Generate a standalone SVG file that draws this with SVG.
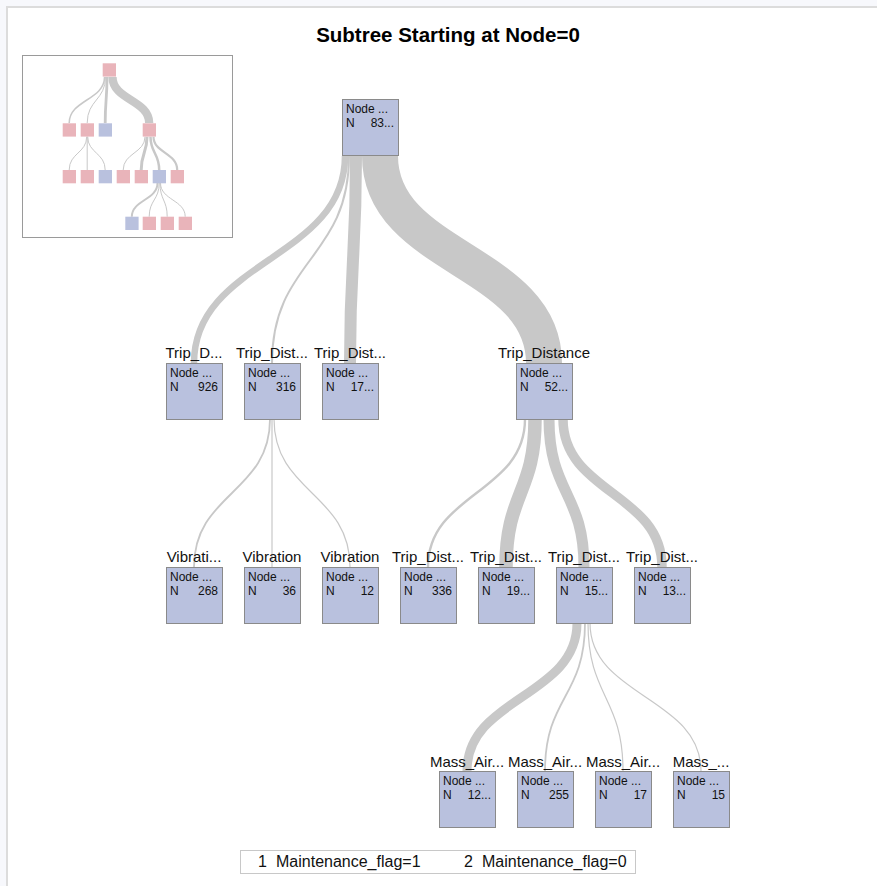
<svg xmlns="http://www.w3.org/2000/svg" width="877" height="886" viewBox="0 0 877 886">
<style>
.bg{fill:#f7f8fc}
.frame{fill:#ffffff;stroke:#dcdcdc;stroke-width:2}
.title{font-family:"Liberation Sans",Arial,sans-serif;font-size:20.5px;font-weight:bold;fill:#000;text-anchor:middle}
.box{fill:#b9c1de;stroke:#8a8a8a;stroke-width:1}
.nt{font-family:"Liberation Sans",Arial,sans-serif;font-size:12px;fill:#111}
.num{text-anchor:end}
.lbl{font-family:"Liberation Sans",Arial,sans-serif;font-size:15px;fill:#111;text-anchor:middle}
.band{fill:none;stroke:#c8c8c8}
.ovbox{fill:#ffffff;stroke:#9a9a9a;stroke-width:1}
.pk{fill:#e9b4ba}
.bl{fill:#b9c1de}
.leg{fill:#ffffff;stroke:#c8c8c8;stroke-width:1}
.legt{font-family:"Liberation Sans",Arial,sans-serif;font-size:16px;fill:#111}
</style>
<rect class="bg" x="0" y="0" width="877" height="886"/>
<rect class="frame" x="7" y="7" width="890" height="900"/>
<text class="title" x="448" y="42">Subtree Starting at Node=0</text>

<g id="overview">
<rect class="ovbox" x="22.5" y="55.5" width="210" height="182"/>
<g id="overview-links">
<path class="band" stroke-width="1.5" d="M104.5,77 C104.5,100 69.2,100 69.2,123"/>
<path class="band" stroke-width="1" d="M105.5,77 C105.5,100 87.2,100 87.2,123"/>
<path class="band" stroke-width="2.8" d="M107,77 C107,100 105.2,100 105.2,123"/>
<path class="band" stroke-width="8.3" d="M112.5,77 C112.5,100 149.2,100 149.2,123"/>
<path class="band" stroke-width="1" d="M86.7,136.7 C86.7,153 69.2,153 69.2,170"/>
<path class="band" stroke-width="1" d="M87.2,136.7 L87.2,170"/>
<path class="band" stroke-width="1" d="M87.7,136.7 C87.7,153 105.2,153 105.2,170"/>
<path class="band" stroke-width="1" d="M145,136.7 C145,153 123.2,153 123.2,170"/>
<path class="band" stroke-width="3" d="M147,136.7 C147,153 141.2,153 141.2,170"/>
<path class="band" stroke-width="2.5" d="M150.5,136.7 C150.5,153 159.2,153 159.2,170"/>
<path class="band" stroke-width="2.2" d="M153.5,136.7 C153.5,153 177.2,153 177.2,170"/>
<path class="band" stroke-width="2" d="M157.5,183 C157.5,200 131.8,200 131.8,216.7"/>
<path class="band" stroke-width="1" d="M159.2,183 C159.2,200 149.2,200 149.2,216.7"/>
<path class="band" stroke-width="1" d="M160,183 C160,200 167.2,200 167.2,216.7"/>
<path class="band" stroke-width="1" d="M160.5,183 C160.5,200 185.2,200 185.2,216.7"/>
</g>
<rect class="pk" x="102.7" y="63.3" width="13.3" height="13.3"/>
<rect class="pk" x="62.7" y="123.3" width="13.3" height="13.3"/>
<rect class="pk" x="80.7" y="123.3" width="13.3" height="13.3"/>
<rect class="bl" x="98.7" y="123.3" width="13.3" height="13.3"/>
<rect class="pk" x="142.7" y="123.3" width="13.3" height="13.3"/>
<rect class="pk" x="62.7" y="170" width="13.3" height="13.3"/>
<rect class="pk" x="80.7" y="170" width="13.3" height="13.3"/>
<rect class="bl" x="98.7" y="170" width="13.3" height="13.3"/>
<rect class="pk" x="116.7" y="170" width="13.3" height="13.3"/>
<rect class="pk" x="134.7" y="170" width="13.3" height="13.3"/>
<rect class="bl" x="152.7" y="170" width="13.3" height="13.3"/>
<rect class="pk" x="170.7" y="170" width="13.3" height="13.3"/>
<rect class="bl" x="125.3" y="216.7" width="13.3" height="13.3"/>
<rect class="pk" x="142.7" y="216.7" width="13.3" height="13.3"/>
<rect class="pk" x="160.7" y="216.7" width="13.3" height="13.3"/>
<rect class="pk" x="178.7" y="216.7" width="13.3" height="13.3"/>
</g>

<g id="connectors">
<path class="band" stroke-width="6.5" d="M345,156 C345,259.5 194,259.5 194,363"/>
<path class="band" stroke-width="2" d="M349,156 C349,259.5 272,259.5 272,363"/>
<path class="band" stroke-width="12" d="M356,156 C356,259.5 350,259.5 350,363"/>
<path class="band" stroke-width="36" d="M380,156 C380,259.5 544,259.5 544,363"/>
<path class="band" stroke-width="1.8" d="M270,419 C270,493 194,493 194,567"/>
<path class="band" stroke-width="1.2" d="M272,419 L272,567"/>
<path class="band" stroke-width="1.2" d="M274,419 C274,493 350,493 350,567"/>
<path class="band" stroke-width="2.4" d="M525,419 C525,493 428,493 428,567"/>
<path class="band" stroke-width="13.5" d="M535,419 C535,493 506,493 506,567"/>
<path class="band" stroke-width="11" d="M549,419 C549,493 584,493 584,567"/>
<path class="band" stroke-width="9.5" d="M563,419 C563,493 662,493 662,567"/>
<path class="band" stroke-width="9" d="M577,623 C577,697 467,697 467,771"/>
<path class="band" stroke-width="1.8" d="M585,623 C585,697 545,697 545,771"/>
<path class="band" stroke-width="1.2" d="M588,623 C588,697 623,697 623,771"/>
<path class="band" stroke-width="1.2" d="M590,623 C590,697 701,697 701,771"/>
</g>

<g id="node0"><rect class="box" x="342.5" y="99.5" width="56" height="56"/><text class="nt" x="346" y="113">Node ...</text><text class="nt" x="346" y="127">N</text><text class="nt num" x="394" y="127">83...</text></g>

<g id="node1"><text class="lbl" x="194" y="358">Trip_D...</text><rect class="box" x="166.5" y="363.5" width="56" height="56"/><text class="nt" x="170" y="377">Node ...</text><text class="nt" x="170" y="391">N</text><text class="nt num" x="218" y="391">926</text></g>
<g id="node2"><text class="lbl" x="272" y="358">Trip_Dist...</text><rect class="box" x="244.5" y="363.5" width="56" height="56"/><text class="nt" x="248" y="377">Node ...</text><text class="nt" x="248" y="391">N</text><text class="nt num" x="296" y="391">316</text></g>
<g id="node3"><text class="lbl" x="350" y="358">Trip_Dist...</text><rect class="box" x="322.5" y="363.5" width="56" height="56"/><text class="nt" x="326" y="377">Node ...</text><text class="nt" x="326" y="391">N</text><text class="nt num" x="374" y="391">17...</text></g>
<g id="node4"><text class="lbl" x="544" y="358">Trip_Distance</text><rect class="box" x="516.5" y="363.5" width="56" height="56"/><text class="nt" x="520" y="377">Node ...</text><text class="nt" x="520" y="391">N</text><text class="nt num" x="568" y="391">52...</text></g>

<g id="node5"><text class="lbl" x="194" y="562">Vibrati...</text><rect class="box" x="166.5" y="567.5" width="56" height="56"/><text class="nt" x="170" y="581">Node ...</text><text class="nt" x="170" y="595">N</text><text class="nt num" x="218" y="595">268</text></g>
<g id="node6"><text class="lbl" x="272" y="562">Vibration</text><rect class="box" x="244.5" y="567.5" width="56" height="56"/><text class="nt" x="248" y="581">Node ...</text><text class="nt" x="248" y="595">N</text><text class="nt num" x="296" y="595">36</text></g>
<g id="node7"><text class="lbl" x="350" y="562">Vibration</text><rect class="box" x="322.5" y="567.5" width="56" height="56"/><text class="nt" x="326" y="581">Node ...</text><text class="nt" x="326" y="595">N</text><text class="nt num" x="374" y="595">12</text></g>
<g id="node8"><text class="lbl" x="428" y="562">Trip_Dist...</text><rect class="box" x="400.5" y="567.5" width="56" height="56"/><text class="nt" x="404" y="581">Node ...</text><text class="nt" x="404" y="595">N</text><text class="nt num" x="452" y="595">336</text></g>
<g id="node9"><text class="lbl" x="506" y="562">Trip_Dist...</text><rect class="box" x="478.5" y="567.5" width="56" height="56"/><text class="nt" x="482" y="581">Node ...</text><text class="nt" x="482" y="595">N</text><text class="nt num" x="530" y="595">19...</text></g>
<g id="node10"><text class="lbl" x="584" y="562">Trip_Dist...</text><rect class="box" x="556.5" y="567.5" width="56" height="56"/><text class="nt" x="560" y="581">Node ...</text><text class="nt" x="560" y="595">N</text><text class="nt num" x="608" y="595">15...</text></g>
<g id="node11"><text class="lbl" x="662" y="562">Trip_Dist...</text><rect class="box" x="634.5" y="567.5" width="56" height="56"/><text class="nt" x="638" y="581">Node ...</text><text class="nt" x="638" y="595">N</text><text class="nt num" x="686" y="595">13...</text></g>

<g id="node12"><text class="lbl" x="467" y="767">Mass_Air...</text><rect class="box" x="439.5" y="771.5" width="56" height="56"/><text class="nt" x="443" y="785">Node ...</text><text class="nt" x="443" y="799">N</text><text class="nt num" x="491" y="799">12...</text></g>
<g id="node13"><text class="lbl" x="545" y="767">Mass_Air...</text><rect class="box" x="517.5" y="771.5" width="56" height="56"/><text class="nt" x="521" y="785">Node ...</text><text class="nt" x="521" y="799">N</text><text class="nt num" x="569" y="799">255</text></g>
<g id="node14"><text class="lbl" x="623" y="767">Mass_Air...</text><rect class="box" x="595.5" y="771.5" width="56" height="56"/><text class="nt" x="599" y="785">Node ...</text><text class="nt" x="599" y="799">N</text><text class="nt num" x="647" y="799">17</text></g>
<g id="node15"><text class="lbl" x="701" y="767">Mass_...</text><rect class="box" x="673.5" y="771.5" width="56" height="56"/><text class="nt" x="677" y="785">Node ...</text><text class="nt" x="677" y="799">N</text><text class="nt num" x="725" y="799">15</text></g>

<g id="legend">
<rect class="leg" x="240.5" y="850.5" width="395" height="23"/>
<text class="legt" x="258" y="867">1</text>
<text class="legt" x="276" y="867">Maintenance_flag=1</text>
<text class="legt" x="464" y="867">2</text>
<text class="legt" x="482" y="867">Maintenance_flag=0</text>
</g>
</svg>
